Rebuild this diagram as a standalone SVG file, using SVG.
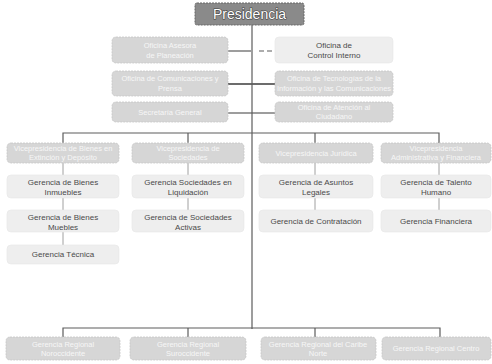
<svg xmlns="http://www.w3.org/2000/svg" width="492" height="364" viewBox="0 0 492 364">
<style>
.bg{fill:#ffffff}
.pres{fill:#8a8a8a;stroke:#666;stroke-width:1;stroke-dasharray:2 1}
.gray{fill:#d6d6d6;stroke:#c6c6c6;stroke-width:0.8;stroke-dasharray:2 1}
.light{fill:#eeeeee;stroke:#e6e6e6;stroke-width:0.6}
.tp{font-family:"Liberation Sans",Arial,sans-serif;font-size:14px;fill:#ffffff;stroke:#444;stroke-width:1.2;paint-order:stroke;text-anchor:middle}
.tw{font-family:"Liberation Sans",Arial,sans-serif;font-size:7.5px;fill:#f6f6f6;text-anchor:middle}
.td{font-family:"Liberation Sans",Arial,sans-serif;font-size:8px;fill:#4a4a4a;text-anchor:middle}
.ln{stroke:#5c5c5c;stroke-width:1.2;fill:none}
.lt{stroke:#5c5c5c;stroke-width:1.8;fill:none}
.ls{stroke:#888;stroke-width:0.8;fill:none}
.dash{stroke:#5c5c5c;stroke-width:1.2;fill:none;stroke-dasharray:5 3}
</style>
<rect class="bg" x="0" y="0" width="492" height="364"/>
<g id="connectors">
<line class="ln" x1="252" y1="25" x2="252" y2="329"/>
<line class="ln" x1="228" y1="51" x2="251" y2="51"/>
<line class="dash" x1="259" y1="51" x2="275" y2="51"/>
<line class="lt" x1="228" y1="84" x2="252" y2="84"/>
<line class="lt" x1="252" y1="84" x2="275" y2="84"/>
<line class="ln" x1="228" y1="113" x2="252" y2="113"/>
<line class="ln" x1="252" y1="113" x2="275" y2="113"/>
<polyline class="ln" points="63,143 63,133 439,133 439,143"/>
<line class="ln" x1="188" y1="133" x2="188" y2="143"/>
<line class="ln" x1="315" y1="133" x2="315" y2="143"/>
<line class="ls" x1="63" y1="163" x2="63" y2="175"/>
<line class="ls" x1="63" y1="198" x2="63" y2="210"/>
<line class="ls" x1="63" y1="232" x2="63" y2="245"/>
<line class="ls" x1="188" y1="163" x2="188" y2="175"/>
<line class="ls" x1="188" y1="198" x2="188" y2="210"/>
<line class="ls" x1="315" y1="163" x2="315" y2="175"/>
<line class="ls" x1="315" y1="198" x2="315" y2="210"/>
<line class="ls" x1="439" y1="163" x2="439" y2="175"/>
<line class="ls" x1="439" y1="198" x2="439" y2="210"/>
<polyline class="ln" points="63,337 63,328 440,328 440,337"/>
<line class="ln" x1="188" y1="328" x2="188" y2="337"/>
<line class="ln" x1="315" y1="328" x2="315" y2="337"/>
</g>
<g id="presidencia"><rect class="pres" x="195" y="3" width="109" height="22" rx="2"/><text class="tp" x="249.5" y="19">Presidencia</text></g>
<g id="planeacion"><rect class="gray" x="112" y="37" width="116" height="26" rx="4"/><text class="tw" x="170" y="48">Oficina Asesora</text><text class="tw" x="170" y="58">de Planeación</text></g>
<g id="comunicaciones"><rect class="gray" x="112" y="71" width="116" height="25" rx="4"/><text class="tw" x="170" y="81">Oficina de Comunicaciones y</text><text class="tw" x="170" y="91">Prensa</text></g>
<g id="secretaria"><rect class="gray" x="112" y="102" width="116" height="20" rx="4"/><text class="tw" x="170" y="115">Secretaría General</text></g>
<g id="control"><rect class="light" x="275" y="37" width="118" height="26" rx="4"/><text class="td" x="334" y="48">Oficina de</text><text class="td" x="334" y="58">Control Interno</text></g>
<g id="tecnologia"><rect class="gray" x="275" y="71" width="118" height="25" rx="4"/><text class="tw" x="334" y="81">Oficina de Tecnologías de la</text><text class="tw" x="334" y="91">Información y las Comunicaciones</text></g>
<g id="atencion"><rect class="gray" x="275" y="102" width="118" height="20" rx="4"/><text class="tw" x="334" y="110">Oficina de Atención al</text><text class="tw" x="334" y="119">Ciudadano</text></g>
<g id="vp-bienes"><rect class="gray" x="7" y="143" width="112" height="20" rx="4"/><text class="tw" x="63" y="151">Vicepresidencia de Bienes en</text><text class="tw" x="63" y="160">Extinción y Depósito</text></g>
<g id="vp-sociedades"><rect class="gray" x="132" y="143" width="112" height="20" rx="4"/><text class="tw" x="188" y="151">Vicepresidencia de</text><text class="tw" x="188" y="160">Sociedades</text></g>
<g id="vp-juridica"><rect class="gray" x="259" y="143" width="114" height="20" rx="4"/><text class="tw" x="316" y="156">Vicepresidencia Jurídica</text></g>
<g id="vp-administrativa"><rect class="gray" x="381" y="143" width="110" height="20" rx="4"/><text class="tw" x="436" y="151">Vicepresidencia</text><text class="tw" x="436" y="160">Administrativa y Financiera</text></g>
<g id="g-inmuebles"><rect class="light" x="7" y="175" width="112" height="23" rx="4"/><text class="td" x="63" y="185">Gerencia de Bienes</text><text class="td" x="63" y="195">Inmuebles</text></g>
<g id="g-muebles"><rect class="light" x="7" y="210" width="112" height="22" rx="4"/><text class="td" x="63" y="220">Gerencia de Bienes</text><text class="td" x="63" y="230">Muebles</text></g>
<g id="g-tecnica"><rect class="light" x="7" y="245" width="112" height="19" rx="4"/><text class="td" x="63" y="257">Gerencia Técnica</text></g>
<g id="g-liquidacion"><rect class="light" x="132" y="175" width="112" height="23" rx="4"/><text class="td" x="188" y="185">Gerencia Sociedades en</text><text class="td" x="188" y="195">Liquidación</text></g>
<g id="g-activas"><rect class="light" x="132" y="210" width="112" height="22" rx="4"/><text class="td" x="188" y="220">Gerencia de Sociedades</text><text class="td" x="188" y="230">Activas</text></g>
<g id="g-legales"><rect class="light" x="259" y="175" width="114" height="23" rx="4"/><text class="td" x="316" y="185">Gerencia de Asuntos</text><text class="td" x="316" y="195">Legales</text></g>
<g id="g-contratacion"><rect class="light" x="259" y="210" width="114" height="22" rx="4"/><text class="td" x="316" y="224">Gerencia de Contratación</text></g>
<g id="g-talento"><rect class="light" x="381" y="175" width="110" height="23" rx="4"/><text class="td" x="436" y="185">Gerencia de Talento</text><text class="td" x="436" y="195">Humano</text></g>
<g id="g-financiera"><rect class="light" x="381" y="210" width="110" height="22" rx="4"/><text class="td" x="436" y="224">Gerencia Financiera</text></g>
<g id="reg-1"><rect class="gray" x="6" y="337" width="114" height="23" rx="4"/><text class="tw" x="63" y="347">Gerencia Regional</text><text class="tw" x="63" y="356">Noroccidente</text></g>
<g id="reg-2"><rect class="gray" x="130" y="337" width="116" height="23" rx="4"/><text class="tw" x="188" y="347">Gerencia Regional</text><text class="tw" x="188" y="356">Suroccidente</text></g>
<g id="reg-3"><rect class="gray" x="261" y="337" width="115" height="23" rx="4"/><text class="tw" x="318" y="347">Gerencia Regional del Caribe</text><text class="tw" x="318" y="356">Norte</text></g>
<g id="reg-4"><rect class="gray" x="382" y="337" width="109" height="23" rx="4"/><text class="tw" x="436" y="351">Gerencia Regional Centro</text></g>
</svg>
